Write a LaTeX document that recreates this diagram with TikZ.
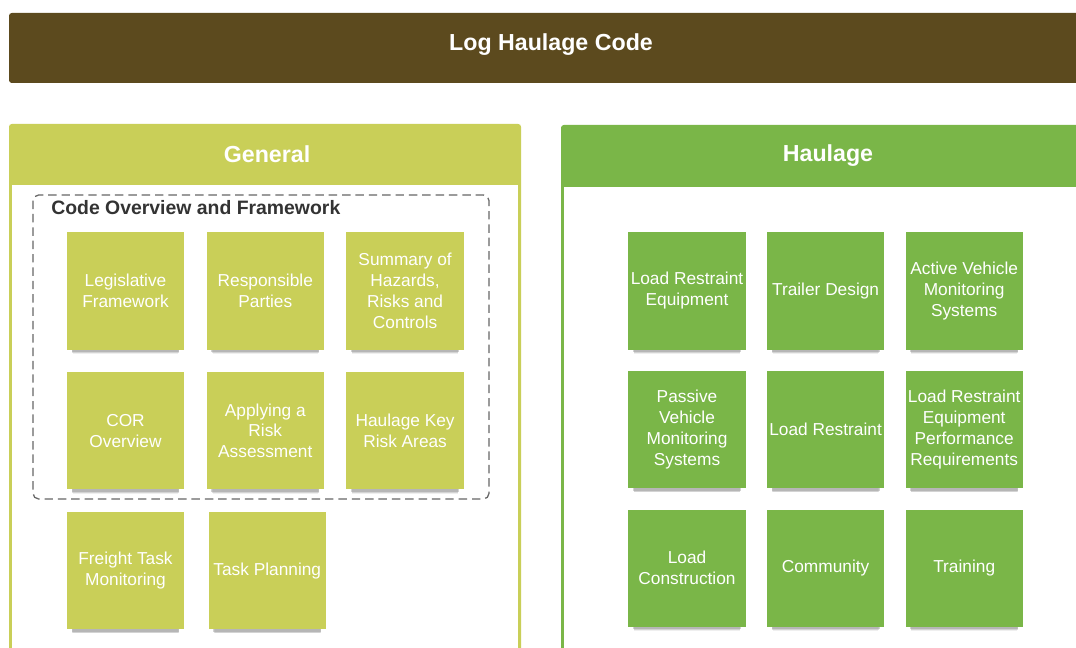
\documentclass[tikz,border=0pt]{standalone}
\usepackage{fontspec}
\setmainfont{Liberation Sans}
\usetikzlibrary{positioning}
\usetikzlibrary{shadows}
\definecolor{logbrown}{RGB}{92,74,30}
\definecolor{genyellow}{RGB}{201,207,88}
\definecolor{haulgreen}{RGB}{122,182,72}
\definecolor{frametext}{RGB}{51,51,51}
\def\tile{2.93cm}
\def\ggap{0.55cm}
\def\hgap{0.52cm}

\begin{document}
\begin{tikzpicture}[x=0.025cm, y=-0.025cm,
        topic/.style={fill=#1, text=white, minimum width=\tile, minimum height=\tile,
            inner sep=1pt, align=center, font=\fontsize{12.3}{14.9}\selectfont,
            drop shadow={shadow xshift=0pt, shadow yshift=-0.28cm, shadow scale=0.9,
            opacity=0.12},
            drop shadow={shadow xshift=0pt, shadow yshift=-0.24cm, shadow scale=0.91,
            opacity=0.25},
            drop shadow={shadow xshift=0pt, shadow yshift=-0.2cm, shadow scale=0.92,
            opacity=0.35}},
        header/.style={text=white, font=\fontsize{16.5}{19}\selectfont\bfseries}]
        \clip (0,0) rectangle (1076,648);
        \fill[white] (0,0) rectangle (1076,648);

        % banner
        \fill[logbrown, rounded corners=2pt] (9,13) rectangle (1100,83);
        \node[header] (code) at (551,45) {Log Haulage Code};

        % two panels
        \fill[genyellow, rounded corners=2pt] (9,124) rectangle (521,680);
        \fill[white] (12,185) rectangle (518,680);
        \node[header] (general) at (267,154) {General};

        \fill[haulgreen, rounded corners=2pt] (561,125) rectangle (1100,680);
        \fill[white] (564,187) rectangle (1100,680);
        \node[header] (haulage) at (828,156) {Haulage};

        % dashed frame round the overview tiles
        \draw[dashed, dash pattern=on 6pt off 3.5pt, gray!80!black, line width=0.9pt,
        rounded corners=4pt] (33,195) rectangle (489,499);
        \node[anchor=west, text=frametext, inner sep=0pt,
        font=\fontsize{13.8}{16}\selectfont\bfseries] (overview) at (51,208)
        {Code Overview and Framework};

        % general tiles
        \node[topic=genyellow] (leg) at (125.5,291) {Legislative\\Framework};
        \node[topic=genyellow, right=\ggap of leg] (resp) {Responsible\\Parties};
        \node[topic=genyellow, right=\ggap of resp] (summ)
        {Summary of\\Hazards,\\Risks and\\Controls};
        \node[topic=genyellow, below=\ggap of leg] (cor) {COR\\Overview};
        \node[topic=genyellow, right=\ggap of cor] (assess) {Applying a\\Risk\\Assessment};
        \node[topic=genyellow, right=\ggap of assess] (keyrisk) {Haulage Key\\Risk Areas};
        \node[topic=genyellow, below=\ggap of cor] (freight) {Freight Task\\Monitoring};
        \node[topic=genyellow, right=0.6cm of freight] (plan) {Task Planning};

        % haulage tiles
        \node[topic=haulgreen] (lre) at (687,291) {Load Restraint\\Equipment};
        \node[topic=haulgreen, right=\hgap of lre] (trailer) {Trailer Design};
        \node[topic=haulgreen, right=\hgap of trailer] (active)
        {Active Vehicle\\Monitoring\\Systems};
        \node[topic=haulgreen, below=\hgap of lre] (passive)
        {Passive\\Vehicle\\Monitoring\\Systems};
        \node[topic=haulgreen, right=\hgap of passive] (restr) {Load Restraint};
        \node[topic=haulgreen, right=\hgap of restr] (perf)
        {Load Restraint\\Equipment\\Performance\\Requirements};
        \node[topic=haulgreen, below=\hgap of passive] (constr) {Load\\Construction};
        \node[topic=haulgreen, right=\hgap of constr] (comm) {Community};
        \node[topic=haulgreen, right=\hgap of comm] (train) {Training};
    \end{tikzpicture}
\end{document}
